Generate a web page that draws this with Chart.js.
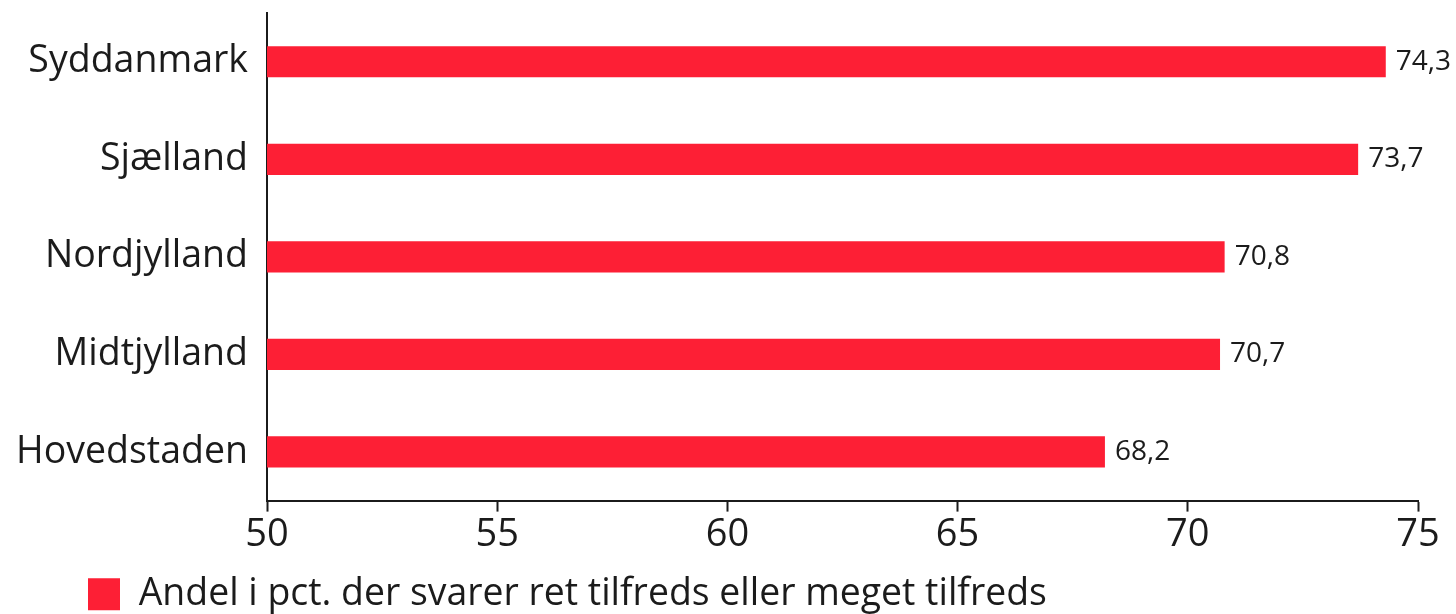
<!DOCTYPE html>
<html>
<head>
<meta charset="utf-8">
<script src="https://cdn.jsdelivr.net/npm/chart.js@4"></script>
<style>
  html, body { margin: 0; padding: 0; background: #fff; }
  #wrap { width: 1456px; height: 614px; }
</style>
</head>
<body>
<div id="wrap"><canvas id="chart" width="1456" height="614"></canvas></div>
<script>
const regions = ['Syddanmark', 'Sjælland', 'Nordjylland', 'Midtjylland', 'Hovedstaden']
const andel = [74.3, 73.7, 70.8, 70.7, 68.2]
const xTicks = [50, 55, 60, 65, 70, 75]
const seriesLabel = 'Andel i pct. der svarer ret tilfreds eller meget tilfreds'

const red = '#fd1f35'
const ink = '#1b1b1b'
const fontFamily = "'Open Sans', 'Noto Sans', sans-serif"

// writes the value at the end of each bar
const valueLabels = {
  id: 'valueLabels',
  afterDatasetsDraw(chart) {
    const ctx = chart.ctx
    const meta = chart.getDatasetMeta(0)
    ctx.save()
    ctx.font = `28px ${fontFamily}`
    ctx.fillStyle = ink
    ctx.textBaseline = 'middle'
    ctx.textAlign = 'left'
    meta.data.forEach((bar, i) => {
      ctx.fillText(andel[i].toFixed(1).replace('.', ','), bar.x + 10, bar.y)
    })
    ctx.restore()
  }
}

// nudge the legend to where it sits in the original
const legendShift = {
  id: 'legendShift',
  afterLayout(chart) {
    const lg = chart.legend
    lg.left += 68; lg.right += 68
    lg.top += 9; lg.bottom += 9
  }
}

const chart = new Chart(document.getElementById('chart'), {
  type: 'bar',
  data: {
    labels: regions,
    datasets: [{
      label: seriesLabel,
      data: andel,
      backgroundColor: red,
      borderWidth: 0,
      barPercentage: 0.32,
      categoryPercentage: 1
    }]
  },
  options: {
    indexAxis: 'y',
    responsive: false,
    animation: false,
    layout: { padding: { top: 13, right: 38, left: 10, bottom: 0 } },
    scales: {
      x: {
        min: 50,
        max: 75,
        afterBuildTicks: (axis) => { axis.ticks = xTicks.map(v => ({ value: v })) },
        grid: { drawOnChartArea: false, drawTicks: true, tickLength: 11, color: ink, tickWidth: 2 },
        border: { display: true, color: ink, width: 2 },
        ticks: { color: ink, font: { family: fontFamily, size: 38 }, padding: 1, maxRotation: 0 },
        afterFit: (axis) => { axis.height = 56 }
      },
      y: {
        grid: { display: false },
        border: { display: true, color: ink, width: 2 },
        ticks: { color: ink, font: { family: fontFamily, size: 37.5 }, padding: 11 },
        afterFit: (axis) => {
          axis.width = 257
          axis.paddingTop = 0
          axis.paddingBottom = 0
        }
      }
    },
    plugins: {
      legend: {
        display: true,
        position: 'bottom',
        align: 'start',
        labels: {
          color: ink,
          font: { family: fontFamily, size: 37.4 },
          boxWidth: 32,
          boxHeight: 32,
          padding: 10
        }
      },
      tooltip: { enabled: false }
    }
  },
  plugins: [valueLabels, legendShift]
})
</script>
</body>
</html>
